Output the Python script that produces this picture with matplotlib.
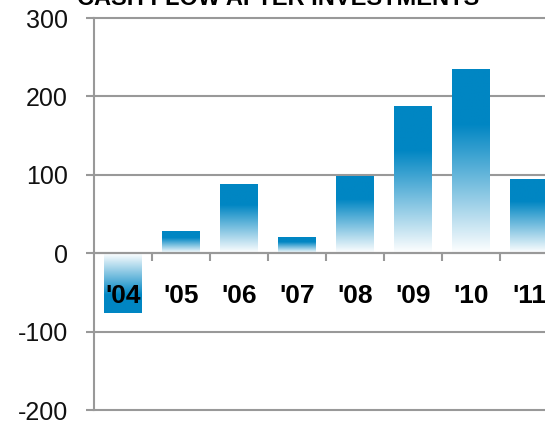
import numpy as np
import matplotlib
matplotlib.use("Agg")
import matplotlib.pyplot as plt
from matplotlib.colors import LinearSegmentedColormap

# ---- data ----
categories = ["'04", "'05", "'06", "'07", "'08", "'09", "'10", "'11"]
values = [-76, 28, 87, 20, 98, 187, 234, 94]
yticks = [-200, -100, 0, 100, 200, 300]
title = "CASH FLOW AFTER INVESTMENTS"

plt.rcParams['font.family'] = ['Liberation Sans', 'DejaVu Sans']

W, H = 545, 424
fig = plt.figure(figsize=(W / 100, H / 100), dpi=100)
ax = fig.add_axes([94 / W, (H - 410) / H, 464 / W, (410 - 18) / H])

grid_color = '#999999'
blue = '#0086c3'
cmap = LinearSegmentedColormap.from_list('bg', [(0, '#ffffff'), (0.7, blue), (1, blue)])

x = np.arange(len(categories))
bars = ax.bar(x, values, width=0.655, color='none', edgecolor='none', zorder=3)

grad = np.linspace(0, 1, 256).reshape(-1, 1)
for b, v in zip(bars, values):
    x0 = b.get_x()
    x1 = x0 + b.get_width()
    y0 = b.get_y()
    y1 = y0 + b.get_height()
    lo, hi = min(y0, y1), max(y0, y1)
    img = grad if v >= 0 else grad[::-1]
    ax.imshow(img, extent=[x0, x1, lo, hi], origin='lower', aspect='auto',
              cmap=cmap, vmin=0, vmax=1, zorder=3, interpolation='bilinear')

ax.set_xlim(-0.5, len(categories) - 0.5)
ax.set_ylim(min(yticks), max(yticks))

for yv in yticks:
    ax.axhline(yv, color=grid_color, lw=1.5, zorder=2 if yv != 0 else 4, clip_on=False)

# spines
for s in ['top', 'right']:
    ax.spines[s].set_visible(False)
ax.spines['left'].set_color(grid_color)
ax.spines['left'].set_linewidth(1.5)
ax.spines['bottom'].set_position(('data', 0))
ax.spines['bottom'].set_color(grid_color)
ax.spines['bottom'].set_linewidth(1.5)
ax.spines['bottom'].set_zorder(4)

ax.set_yticks(yticks)
ax.set_yticklabels([str(t) for t in yticks])
ax.tick_params(axis='y', direction='out', length=5.8, width=1.5, color=grid_color,
               pad=13, labelsize=18, labelcolor='#111111')
ax.set_xticks(x[:-1] + 0.5)
ax.set_xticklabels([])
ax.tick_params(axis='x', direction='out', length=5.8, width=1.5, color=grid_color)

for xi, lab in zip(x, categories):
    ax.text(xi, -63, lab, ha='center', va='baseline', fontsize=19,
            fontweight='bold', color='black', zorder=5, clip_on=False)

fig.text(278 / W, 1 - 5 / H, title, ha='center', va='baseline', fontsize=17,
         fontweight='bold', color='black')

fig.savefig('out.png', dpi=100)
